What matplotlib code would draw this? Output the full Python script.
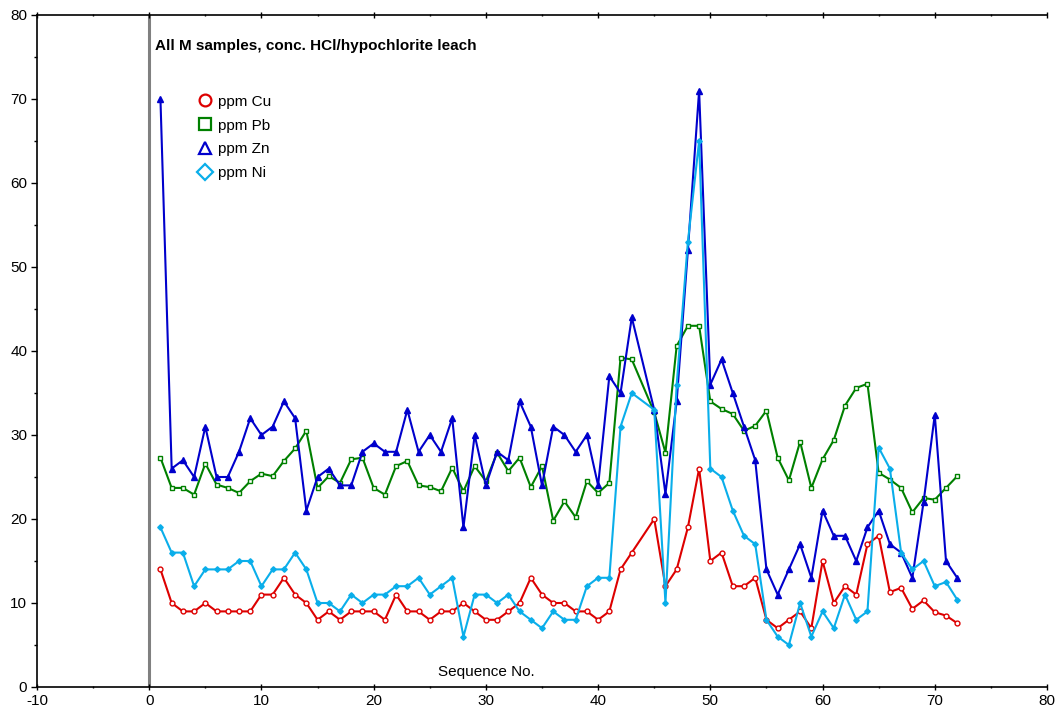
import numpy as np
import matplotlib
matplotlib.use("Agg")
import matplotlib.pyplot as plt
from matplotlib.lines import Line2D

plt.rcParams['font.family'] = ['Liberation Sans', 'DejaVu Sans']
plt.rcParams['axes.unicode_minus'] = False

seq = list(range(1, 44)) + list(range(45, 73))

cu = [14, 10, 9, 9, 10, 9, 9, 9, 9, 11,
      11, 13, 11, 10, 8, 9, 8, 9, 9, 9,
      8, 11, 9, 9, 8, 9, 9, 10, 9, 8,
      8, 9, 10, 13, 11, 10, 10, 9, 9, 8,
      9, 14, 16,
      20, 12, 14, 19, 26, 15,
      16, 12, 12, 13, 8, 7, 8, 9, 7, 15,
      10, 12, 11, 17, 18, 11.3, 11.8, 9.3, 10.3, 8.9,
      8.5, 7.6]

pb = [27.3, 23.7, 23.7, 22.9, 26.6, 24.1, 23.7, 23.1, 24.5, 25.4,
      25.1, 26.9, 28.4, 30.5, 23.7, 25.1, 24.3, 27.1, 27.3, 23.7,
      22.9, 26.3, 26.9, 24.0, 23.8, 23.3, 26.1, 23.3, 26.3, 24.5,
      27.9, 25.7, 27.3, 23.8, 26.3, 19.8, 22.1, 20.2, 24.5, 23.1,
      24.3, 39.2, 39.0,
      32.7, 27.9, 40.6, 43.0, 43.0, 34.0,
      33.1, 32.5, 30.5, 31.1, 32.9, 27.3, 24.6, 29.2, 23.7, 27.1,
      29.4, 33.5, 35.6, 36.1, 25.5, 24.7, 23.7, 20.8, 22.5, 22.3,
      23.7, 25.1]

zn = [70, 26, 27, 25, 31, 25, 25, 28, 32, 30,
      31, 34, 32, 21, 25, 26, 24, 24, 28, 29,
      28, 28, 33, 28, 30, 28, 32, 19, 30, 24,
      28, 27, 34, 31, 24, 31, 30, 28, 30, 24,
      37, 35, 44,
      33, 23, 34, 52, 71, 36,
      39, 35, 31, 27, 14, 11, 14, 17, 13, 21,
      18, 18, 15, 19, 21, 17, 16, 13, 22, 32.4,
      15, 13]

ni = [19, 16, 16, 12, 14, 14, 14, 15, 15, 12,
      14, 14, 16, 14, 10, 10, 9, 11, 10, 11,
      11, 12, 12, 13, 11, 12, 13, 6, 11, 11,
      10, 11, 9, 8, 7, 9, 8, 8, 12, 13,
      13, 31, 35,
      33, 10, 36, 53, 65, 26,
      25, 21, 18, 17, 8, 6, 5, 10, 6, 9,
      7, 11, 8, 9, 28.5, 26, 16, 14, 15, 12,
      12.5, 10.4]

labels = ['ppm Cu', 'ppm Pb', 'ppm Zn', 'ppm Ni']
title = 'All M samples, conc. HCl/hypochlorite leach'
xlabel = 'Sequence No.'

colors = ['#dd0000', '#008000', '#0000cc', '#0aaeea']
markers = ['o', 's', '^', 'D']
msizes = [3.5, 3.5, 4.5, 2.8]
faces = ['white', 'white', None, None]

fig = plt.figure(figsize=(10.56, 7.2), dpi=100)
ax = fig.add_axes([37/1056, 33/720, 1010/1056, 672/720])

ax.axvline(0, color='#808080', lw=2.2, zorder=1)

series = [cu, pb, zn, ni]
handles = []
for vals, c, m, ms, fc, lab in zip(series, colors, markers, msizes, faces, labels):
    kw = dict(color=c, marker=m, markersize=ms, lw=1.5, markeredgewidth=1.0, zorder=3)
    if fc is not None:
        kw['markerfacecolor'] = fc
    ax.plot(seq, vals, **kw)
    handles.append(Line2D([], [], linestyle='none', marker=m, markersize=8.5,
                          markerfacecolor='none', markeredgecolor=c,
                          markeredgewidth=1.6, label=lab))

ax.set_xlim(-10, 80)
ax.set_ylim(0, 80)
ax.set_xticks(np.arange(-10, 81, 10))
ax.set_xticks(np.arange(-10, 81, 5), minor=True)
ax.set_yticks(np.arange(0, 81, 10))
ax.set_yticks(np.arange(0, 81, 5), minor=True)
ax.tick_params(axis='both', which='major', labelsize=11, length=4, width=1, direction='out', pad=3)
ax.tick_params(axis='both', which='minor', length=2, width=1, direction='out')
ax.tick_params(axis='x', which='both', top=True, direction='inout')
ax.spines['right'].set_visible(False)
for s in ['left', 'bottom', 'top']:
    ax.spines[s].set_linewidth(1.2)

ax.text(0.5, 76.3, title, fontsize=11, fontweight='bold', ha='left', va='center')
ax.text(30, 1.8, xlabel, fontsize=11, ha='center', va='center')

leg = ax.legend(handles=handles, loc='upper left', frameon=False,
                bbox_to_anchor=(191/1056, 1 - 87/720), bbox_transform=fig.transFigure,
                fontsize=11, handlelength=0.8, handletextpad=0.45,
                labelspacing=0.65, borderpad=0)

fig.savefig('out.png', dpi=100)
